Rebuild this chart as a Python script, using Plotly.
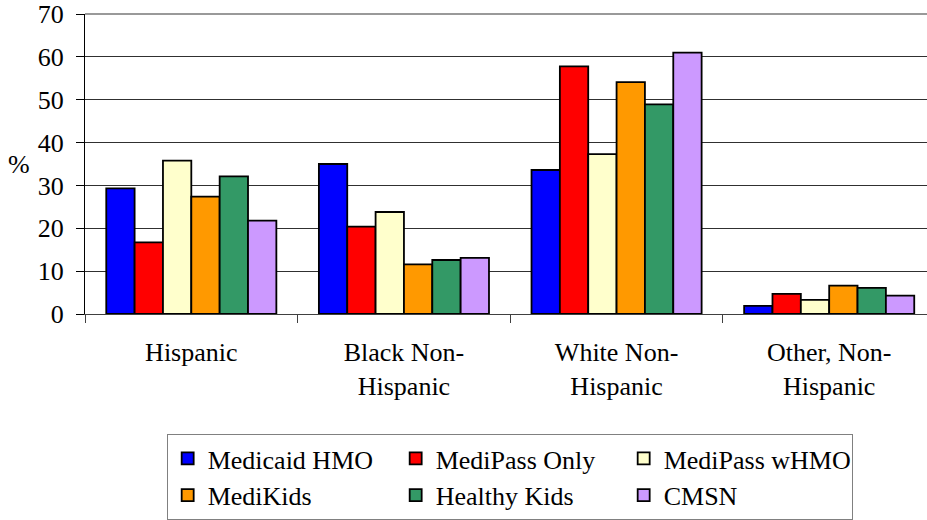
import plotly.graph_objects as go

# Race/ethnicity distribution (%) by program
categories = ["Hispanic", "Black Non-<br>Hispanic", "White Non-<br>Hispanic", "Other, Non-<br>Hispanic"]
programs = ["Medicaid HMO", "MediPass Only", "MediPass wHMO", "MediKids", "Healthy Kids", "CMSN"]
medicaid_hmo = [29.3, 35.0, 33.6, 1.9]
medipass_only = [16.7, 20.4, 57.8, 4.7]
medipass_whmo = [35.8, 23.8, 37.3, 3.3]
medikids = [27.4, 11.6, 54.1, 6.6]
healthy_kids = [32.1, 12.6, 48.9, 6.1]
cmsn = [21.8, 13.1, 61.0, 4.3]
y_ticks = [0, 10, 20, 30, 40, 50, 60, 70]

series = [medicaid_hmo, medipass_only, medipass_whmo, medikids, healthy_kids, cmsn]
colors = ["#0000FF", "#FF0000", "#FFFFCC", "#FF9900", "#339966", "#CC99FF"]

FONT = "Liberation Serif"
SIZE = 26

fig = go.Figure()
for name, vals, col in zip(programs, series, colors):
    fig.add_trace(go.Bar(
        x=categories, y=vals, name=name,
        marker=dict(color=col, line=dict(color="#000000", width=1.8)),
    ))

fig.update_layout(
    width=927, height=520,
    margin=dict(l=85, r=0, t=14, b=206),
    paper_bgcolor="white", plot_bgcolor="white",
    barmode="group", bargap=0.2, bargroupgap=0,
    showlegend=True,
    legend=dict(
        orientation="h",
        x=0.097, y=-0.40, xanchor="left", yanchor="top",
        bordercolor="#808080", borderwidth=1,
        entrywidth=183, entrywidthmode="pixels",
        font=dict(family=FONT, size=SIZE, color="#000000"),
        traceorder="normal",
    ),
)

fig.update_xaxes(
    type="category",
    range=[-0.5, 3.46],
    showline=True, linecolor="#404040", linewidth=1,
    ticks="outside", tickson="boundaries", ticklen=8, tickcolor="#404040",
    showgrid=False,
    ticklabelstandoff=15,
    tickfont=dict(family=FONT, size=SIZE, color="#000000"),
)
fig.update_yaxes(
    range=[0, 70], tickvals=y_ticks,
    showline=True, linecolor="#000000", linewidth=1,
    ticks="outside", ticklen=8, tickcolor="#000000",
    showgrid=True, gridcolor="#303030", gridwidth=1,
    zeroline=False,
    ticklabelstandoff=7,
    tickfont=dict(family=FONT, size=SIZE, color="#000000"),
)

# plot-area top border
fig.add_shape(type="line", xref="x domain", yref="y domain",
              x0=0, x1=1, y0=1, y1=1, line=dict(color="#999999", width=2))

# axis unit label
fig.add_annotation(text="%", xref="paper", yref="paper", x=-0.078, y=0.5,
                   xanchor="center", yanchor="middle", showarrow=False,
                   font=dict(family=FONT, size=SIZE, color="#000000"))

fig.write_html("out.html")
